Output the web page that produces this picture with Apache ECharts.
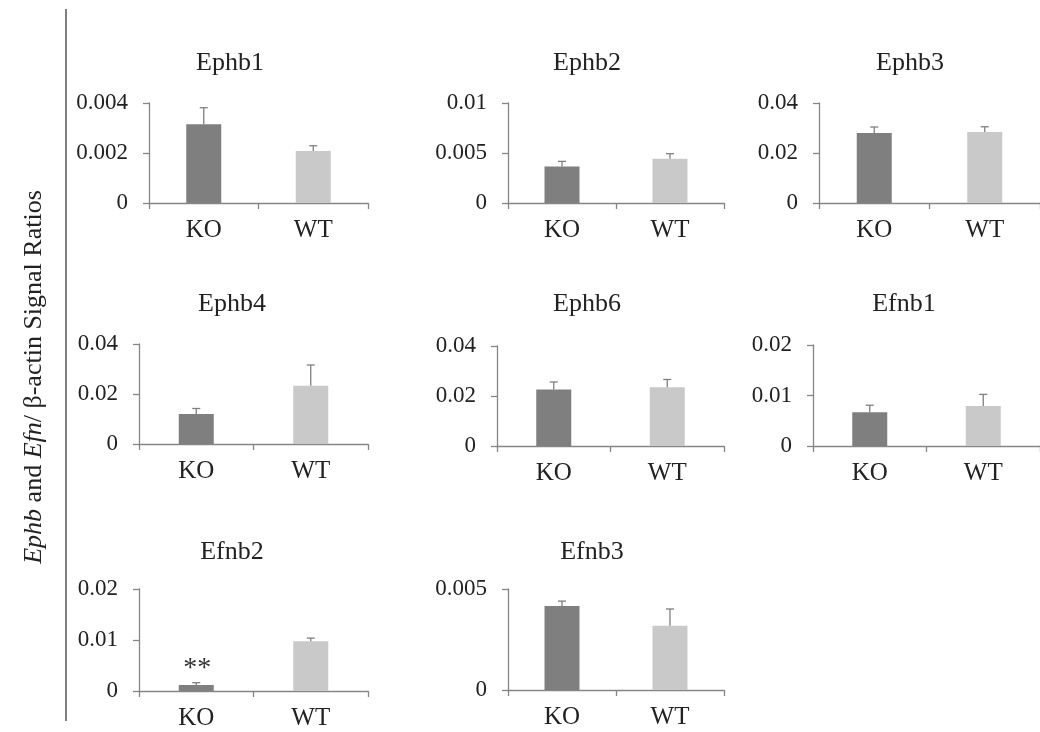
<!DOCTYPE html>
<html>
<head>
<meta charset="utf-8">
<script src="https://cdn.jsdelivr.net/npm/echarts@6/dist/echarts.min.js"></script>
<style>
  html, body { margin: 0; padding: 0; background: #fff; }
  #myEchart { width: 1040px; height: 732px; }
</style>
</head>
<body>
<div id="myEchart"></div>
<script>
// data
var genes = ["Ephb1", "Ephb2", "Ephb3", "Ephb4", "Ephb6", "Efnb1", "Efnb2", "Efnb3"];
var groups = ["KO", "WT"];
var koMean = [0.00315, 0.00366, 0.0280, 0.0120, 0.0226, 0.00667, 0.00118, 0.00416];
var koErr  = [0.00066, 0.0005, 0.0024, 0.0022, 0.0030, 0.0014, 0.00045, 0.00024];
var wtMean = [0.00208, 0.00443, 0.0284, 0.0233, 0.0235, 0.00792, 0.00977, 0.00318];
var wtErr  = [0.00021, 0.0005, 0.0021, 0.0083, 0.0031, 0.0023, 0.0006, 0.00083];
var yMax   = [0.004, 0.01, 0.04, 0.04, 0.04, 0.02, 0.02, 0.005];
var yStep  = [0.002, 0.005, 0.02, 0.02, 0.02, 0.01, 0.01, 0.005];
var koMarks = ["", "", "", "", "", "", "**", ""];
var yTitle = ["Ephb", " and ", "Efn", "/ \u03b2-actin Signal Ratios"];

// layout (pixels)
var panels = [
  { left: 149, top: 103, width: 219, height: 100, tx: 225, ty: 62 },
  { left: 508, top: 103, width: 216, height: 100, tx: 582, ty: 62 },
  { left: 819, top: 103, width: 227, height: 100, tx: 905, ty: 62 },
  { left: 139, top: 344, width: 229, height: 100, tx: 227, ty: 303 },
  { left: 497, top: 346, width: 227, height: 100, tx: 582, ty: 303 },
  { left: 813, top: 345, width: 229, height: 101, tx: 899, ty: 303 },
  { left: 139, top: 589, width: 229, height: 102, tx: 227, ty: 551 },
  { left: 508, top: 589, width: 216, height: 101, tx: 587, ty: 551 }
];

var font = "Liberation Serif";
var axisColor = "#868686";
var textColor = "#222";
var barColors = ["#7f7f7f", "#c9c9c9"];

var chart = echarts.init(document.getElementById("myEchart"));

var grid = [], xAxis = [], yAxis = [], title = [], series = [];

genes.forEach(function (g, i) {
  var p = panels[i];
  grid.push({ left: p.left, top: p.top, width: p.width, height: p.height, containLabel: false });
  title.push({
    text: g,
    left: p.tx,
    top: p.ty - 17,
    textAlign: "center",
    textStyle: { fontFamily: font, fontSize: 26, fontWeight: "normal", color: textColor }
  });
  xAxis.push({
    type: "category",
    gridIndex: i,
    data: groups,
    axisLine: { lineStyle: { color: axisColor, width: 1.3 } },
    axisTick: { show: true, length: 6, lineStyle: { color: axisColor, width: 1.3 } },
    axisLabel: { margin: 15, fontFamily: font, fontSize: 25, color: textColor }
  });
  yAxis.push({
    type: "value",
    gridIndex: i,
    min: 0,
    max: yMax[i],
    interval: yStep[i],
    splitLine: { show: false },
    axisLine: { show: true, lineStyle: { color: axisColor, width: 1.3 } },
    axisTick: { show: true, length: 6, lineStyle: { color: axisColor, width: 1.3 } },
    axisLabel: {
      margin: 21,
      fontFamily: font,
      fontSize: 23,
      color: textColor,
      formatter: function (v) { return String(+v.toPrecision(6)); }
    }
  });
  series.push({
    type: "bar",
    xAxisIndex: i,
    yAxisIndex: i,
    barWidth: 35,
    data: [
      { value: koMean[i], itemStyle: { color: barColors[0] } },
      { value: wtMean[i], itemStyle: { color: barColors[1] } }
    ],
    silent: true
  });
  // upper error bars (+ significance marks)
  series.push({
    type: "custom",
    xAxisIndex: i,
    yAxisIndex: i,
    data: [
      [0, koMean[i], koMean[i] + koErr[i], koMarks[i]],
      [1, wtMean[i], wtMean[i] + wtErr[i], ""]
    ],
    z: 5,
    renderItem: function (params, api) {
      var base = api.coord([api.value(0), api.value(1)]);
      var top = api.coord([api.value(0), api.value(2)]);
      var cap = 4;
      var children = [
        { type: "line", shape: { x1: base[0], y1: base[1], x2: top[0], y2: top[1] },
          style: { stroke: "#7f7f7f", lineWidth: 1.3 } },
        { type: "line", shape: { x1: top[0] - cap, y1: top[1], x2: top[0] + cap, y2: top[1] },
          style: { stroke: "#7f7f7f", lineWidth: 1.3 } }
      ];
      var mark = koMarks[i];
      if (api.value(0) === 0 && mark) {
        children.push({
          type: "text",
          x: top[0] + 1,
          y: top[1] - 14,
          style: { text: mark, font: "28px '" + font + "'", fill: "#333", align: "center", verticalAlign: "middle" }
        });
      }
      return { type: "group", children: children };
    }
  });
});

var option = {
  backgroundColor: "#fff",
  animation: false,
  title: title,
  grid: grid,
  xAxis: xAxis,
  yAxis: yAxis,
  series: series,
  graphic: [
    {
      type: "line",
      shape: { x1: 66, y1: 9, x2: 66, y2: 721 },
      style: { stroke: "#555", lineWidth: 1.5 }
    },
    {
      type: "text",
      x: 34,
      y: 377,
      rotation: Math.PI / 2,
      style: {
        text: "{i|" + yTitle[0] + "}{n|" + yTitle[1] + "}{i|" + yTitle[2] + "}{n|" + yTitle[3] + "}",
        align: "center",
        verticalAlign: "middle",
        rich: {
          i: { fontFamily: font, fontSize: 26, fontStyle: "italic", fill: textColor },
          n: { fontFamily: font, fontSize: 26, fill: textColor }
        }
      }
    }
  ]
};

chart.setOption(option);
window.addEventListener("resize", function () {
  chart.resize();
});
</script>
</body>
</html>
